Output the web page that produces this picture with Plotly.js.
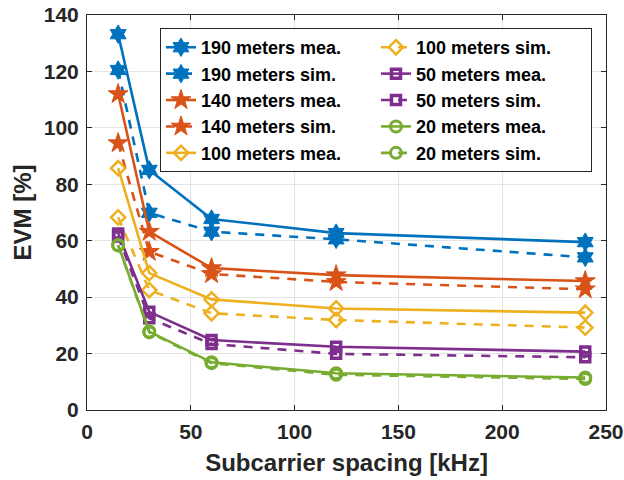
<!DOCTYPE html>
<html>
<head>
<meta charset="utf-8">
<script src="https://cdn.plot.ly/plotly-3.0.1.min.js"></script>
<style>html,body{margin:0;padding:0;background:#fff;}#chart{width:624px;height:480px;}</style>
</head>
<body>
<div id="chart"></div>
<script>
// Data
const spacing = [15, 30, 60, 120, 240];
const evm190Mea = [133.2, 85.1, 67.7, 62.7, 59.5];
const evm190Sim = [120.5, 69.9, 63.2, 60.5, 54.1];
const evm140Mea = [112.0, 63.2, 50.3, 47.8, 45.7];
const evm140Sim = [94.6, 56.1, 48.2, 45.4, 42.8];
const evm100Mea = [85.7, 48.5, 39.2, 36.0, 34.5];
const evm100Sim = [68.3, 42.5, 34.3, 31.9, 29.2];
const evm50Mea = [62.6, 34.8, 24.8, 22.4, 20.7];
const evm50Sim = [61.5, 32.5, 23.4, 19.9, 18.7];
const evm20Mea = [58.5, 27.8, 16.9, 13.0, 11.5];
const evm20Sim = [58.3, 27.5, 16.6, 12.5, 11.0];
const seriesNames = ['190 meters mea.', '190 meters sim.', '140 meters mea.', '140 meters sim.',
  '100 meters mea.', '100 meters sim.', '50 meters mea.', '50 meters sim.', '20 meters mea.', '20 meters sim.'];
const xTicks = [0, 50, 100, 150, 200, 250];
const yTicks = [0, 20, 40, 60, 80, 100, 120, 140];

const C = {b: '#0072BD', o: '#D95319', y: '#EDB120', p: '#7E2F8E', g: '#77AC30'};
const LW = 2.6;
const DASH = '9px,8px';
const FONT = 'Liberation Sans, Arial, sans-serif';

function tr(y, name, color, dash, symbol, size, mlw, rank) {
  return {
    x: spacing, y: y, name: name, type: 'scatter', mode: 'lines+markers',
    line: {color: color, width: LW, dash: dash},
    marker: {symbol: symbol, size: size, color: color, line: {color: color, width: mlw}},
    legendrank: rank
  };
}

const data = [
  tr(evm190Mea, seriesNames[0], C.b, 'solid', 'hexagram', 14, 1, 1),
  tr(evm190Sim, seriesNames[1], C.b, DASH, 'hexagram', 14, 1, 3),
  tr(evm140Mea, seriesNames[2], C.o, 'solid', 'star', 15, 1, 5),
  tr(evm140Sim, seriesNames[3], C.o, DASH, 'star', 15, 1, 7),
  tr(evm100Mea, seriesNames[4], C.y, 'solid', 'diamond-open', 11, 2.5, 9),
  tr(evm100Sim, seriesNames[5], C.y, DASH, 'diamond-open', 11, 2.5, 2),
  tr(evm50Mea, seriesNames[6], C.p, 'solid', 'square-open', 9, 3.5, 4),
  tr(evm50Sim, seriesNames[7], C.p, DASH, 'square-open', 9, 3.5, 6),
  tr(evm20Mea, seriesNames[8], C.g, 'solid', 'circle-open', 11, 3, 8),
  tr(evm20Sim, seriesNames[9], C.g, DASH, 'circle-open', 11, 3, 10)
];

const axisCommon = {
  showline: true, linecolor: '#262626', linewidth: 1, mirror: 'ticks',
  ticks: 'inside', ticklen: 5, tickcolor: '#262626', tickwidth: 1,
  showgrid: true, gridcolor: '#e3e3e3', gridwidth: 1, zeroline: false,
  automargin: false,
  tickfont: {family: FONT, size: 21, color: '#262626', weight: 'bold'}
};

const layout = {
  width: 624, height: 480,
  margin: {l: 87, r: 18, t: 15, b: 70},
  paper_bgcolor: '#ffffff', plot_bgcolor: '#ffffff',
  font: {family: FONT, color: '#262626'},
  xaxis: Object.assign({}, axisCommon, {
    range: [0, 250], tickvals: xTicks, ticktext: xTicks.map(String),
    ticklabelstandoff: 3,
    title: {text: 'Subcarrier spacing [kHz]', standoff: 11,
      font: {family: FONT, size: 24, color: '#262626', weight: 'bold'}}
  }),
  yaxis: Object.assign({}, axisCommon, {
    range: [0, 140], tickvals: yTicks, ticktext: yTicks.map(String),
    ticklabelstandoff: 3,
    title: {text: 'EVM [%]', standoff: 5,
      font: {family: FONT, size: 24, color: '#262626', weight: 'bold'}}
  }),
  legend: {
    orientation: 'h', entrywidth: 170, entrywidthmode: 'pixels',
    x: 0.973, xanchor: 'right', y: 0.967, yanchor: 'top',
    bgcolor: '#ffffff', bordercolor: '#262626', borderwidth: 1,
    traceorder: 'normal', itemsizing: 'trace',
    font: {family: FONT, size: 18, color: '#000000', weight: 'bold'}
  },
  showlegend: true
};

Plotly.newPlot('chart', data, layout, {displayModeBar: false, staticPlot: true});
</script>
</body>
</html>
